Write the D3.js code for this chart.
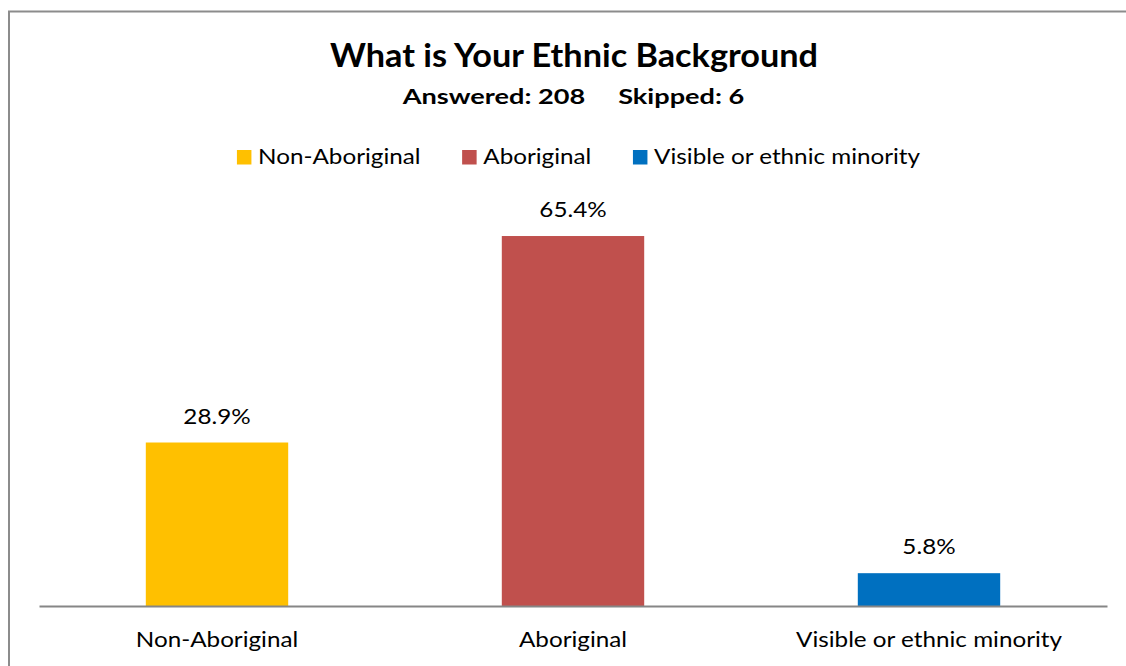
<!DOCTYPE html>
<html>
<head>
<meta charset="utf-8">
<script src="https://cdn.jsdelivr.net/npm/d3@7"></script>
<style>
  html, body { margin: 0; padding: 0; background: #ffffff; overflow: hidden; }
  svg { display: block; }
  text { font-family: "Lato", "Open Sans", sans-serif; fill: #000000; }
</style>
</head>
<body>
<svg id="chart" width="1126" height="666"></svg>
<script>
// Survey results: ethnic background of respondents (percent)
const categories = ["Non-Aboriginal", "Aboriginal", "Visible or ethnic minority"];
const values = [28.9, 65.4, 5.8];
const colors = ["#FFC000", "#C0504D", "#0070C0"];
const titleText = "What is Your Ethnic Background";
const subtitleText = "Answered: 208\u00a0\u00a0\u00a0\u00a0\u00a0Skipped: 6";
const yMax = 70;

const W = 1126, H = 666;
const svg = d3.select("#chart");

// Outer chart border: only the top and left edges fall inside the view
svg.append("path")
  .attr("d", `M9,${H + 5}V11.5H${W + 5}`)
  .attr("fill", "none")
  .attr("stroke", "#8c8c8c")
  .attr("stroke-width", 2);

// Condense text horizontally so its width follows a reference string width
function condense(sel, k) {
  sel.each(function () {
    const w = this.getComputedTextLength();
    d3.select(this).attr("textLength", w * k).attr("lengthAdjust", "spacingAndGlyphs");
  });
}
function factorFor(str, size, weight, target) {
  const t = svg.append("text").attr("font-size", size).attr("font-weight", weight).text(str);
  const w = t.node().getComputedTextLength();
  t.remove();
  return target / w;
}

const labelSize = 22;
const kLabel = factorFor("Non-Aboriginal", labelSize, "normal", 162.4);

// Title and subtitle
const title = svg.append("text")
  .attr("x", 574).attr("y", 67)
  .attr("text-anchor", "middle")
  .attr("font-size", 32).attr("font-weight", "bold")
  .text(titleText);
condense(title, 488 / title.node().getComputedTextLength());

const sub = svg.append("text")
  .attr("x", 573.5).attr("y", 104)
  .attr("text-anchor", "middle")
  .attr("font-size", 20).attr("font-weight", "bold")
  .text(subtitleText);
condense(sub, 341.5 / sub.node().getComputedTextLength());

// Scales
const x = d3.scaleBand()
  .domain(categories)
  .range([39, 1107])
  .paddingInner(0.6)
  .paddingOuter(0.3);

const y = d3.scaleLinear()
  .domain([0, yMax])
  .range([606, 210]);

const color = d3.scaleOrdinal().domain(categories).range(colors);

// Bars
svg.append("g").selectAll("rect")
  .data(categories)
  .join("rect")
  .attr("x", d => x(d))
  .attr("width", x.bandwidth())
  .attr("y", (d, i) => y(values[i]))
  .attr("height", (d, i) => y(0) - y(values[i]))
  .attr("fill", d => color(d));

// Value labels above bars
const vLabels = svg.append("g").selectAll("text")
  .data(categories)
  .join("text")
  .attr("x", d => x(d) + x.bandwidth() / 2)
  .attr("y", (d, i) => y(values[i]) - 19)
  .attr("text-anchor", "middle")
  .attr("font-size", labelSize)
  .text((d, i) => values[i].toFixed(1) + "%");
condense(vLabels, kLabel);

// Category axis
const xAxis = svg.append("g")
  .attr("transform", `translate(0,${y(0)})`)
  .call(d3.axisBottom(x).tickSize(0).tickSizeOuter(0));
xAxis.select(".domain")
  .attr("stroke", "#868686")
  .attr("stroke-width", 2.2);
xAxis.selectAll(".tick text")
  .attr("y", 41)
  .attr("dy", 0)
  .attr("font-size", labelSize)
  .attr("font-family", "Lato, 'Open Sans', sans-serif")
  .attr("fill", "#000000");
condense(xAxis.selectAll(".tick text"), kLabel);

// Legend
const legend = svg.append("g");
const items = legend.selectAll("g")
  .data(categories)
  .join("g");
items.append("rect")
  .attr("width", 14.5).attr("height", 14.5)
  .attr("y", 150)
  .attr("fill", d => color(d));
const lt = items.append("text")
  .attr("y", 164.3)
  .attr("font-size", labelSize)
  .text(d => d);
condense(lt, kLabel);

const swatchGap = 21.2, itemGap = 41.6;
const widths = lt.nodes().map(n => +n.getAttribute("textLength"));
const total = d3.sum(widths) + categories.length * swatchGap + (categories.length - 1) * itemGap;
let cursor = 578.5 - total / 2;
items.each(function (d, i) {
  const g = d3.select(this);
  g.select("rect").attr("x", cursor);
  g.select("text").attr("x", cursor + swatchGap);
  cursor += swatchGap + widths[i] + itemGap;
});
</script>
</body>
</html>
